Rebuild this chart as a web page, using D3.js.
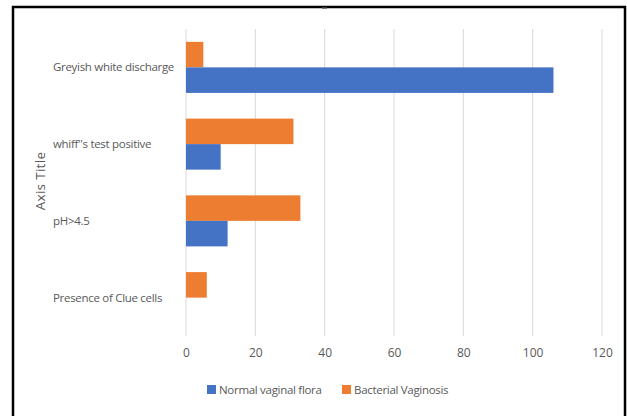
<!DOCTYPE html>
<html>
<head>
<meta charset="utf-8">
<script src="https://d3js.org/d3.v7.min.js"></script>
<style>
  body { margin: 0; background: #fff; }
  text { font-family: "Open Sans", sans-serif; fill: #595959; }
</style>
</head>
<body>
<svg id="chart" width="627" height="416"></svg>
<script>
var categories = ['Greyish white discharge', "whiff''s test positive", 'pH>4.5', 'Presence of Clue cells']
var seriesNames = ['Bacterial Vaginosis', 'Normal vaginal flora']
var bacterial = [5, 31, 33, 6]
var normal = [106, 10, 12, 0]
var xTicks = [0, 20, 40, 60, 80, 100, 120]
var colors = {'Normal vaginal flora': '#4472c4', 'Bacterial Vaginosis': '#ed7d31'}

var svg = d3.select('#chart')

// outer frame
svg.append('rect')
  .attr('x', 13).attr('y', 7)
  .attr('width', 612).attr('height', 420)
  .attr('fill', 'none').attr('stroke', '#000').attr('stroke-width', 2.5)

// remnant of cut-off title
svg.append('rect').attr('x', 322).attr('y', 7.5).attr('width', 5).attr('height', 1.5).attr('fill', '#777')

var margin = {left: 186, right: 25, top: 29, bottom: 80}
var width = 627 - margin.left - margin.right
var height = 416 - margin.top - margin.bottom

var x = d3.scaleLinear().domain([0, 120]).range([margin.left, margin.left + width])
var y = d3.scaleBand().domain(categories).range([margin.top, margin.top + height])
  .paddingInner(0.335).paddingOuter(0.1675)
var inner = d3.scaleBand().domain(seriesNames).range([0, y.bandwidth()])

// gridlines
svg.append('g').selectAll('line').data(xTicks).enter().append('line')
  .attr('x1', d => x(d)).attr('x2', d => x(d))
  .attr('y1', margin.top).attr('y2', margin.top + height)
  .attr('stroke', '#d9d9d9').attr('stroke-width', 1)

var rows = categories.map((c, i) => ({cat: c, vals: [
  {name: 'Bacterial Vaginosis', v: bacterial[i]},
  {name: 'Normal vaginal flora', v: normal[i]}
]}))

var groups = svg.append('g').selectAll('g').data(rows).enter().append('g')
  .attr('transform', d => 'translate(0,' + y(d.cat) + ')')

groups.selectAll('rect').data(d => d.vals).enter().append('rect')
  .attr('x', x(0))
  .attr('y', d => inner(d.name))
  .attr('width', d => x(d.v) - x(0))
  .attr('height', inner.bandwidth())
  .attr('fill', d => colors[d.name])

// x axis labels
var xAxis = d3.axisBottom(x).tickValues(xTicks).tickSize(0).tickPadding(12)
var gx = svg.append('g').attr('transform', 'translate(0,' + (margin.top + height) + ')').call(xAxis)
gx.select('.domain').remove()
gx.selectAll('text').style('font-size', '12px').attr('fill', '#595959').style('font-family', '"Open Sans", sans-serif')

// category labels
svg.append('g').selectAll('text').data(categories).enter().append('text')
  .attr('x', 53)
  .attr('y', d => y(d) + y.bandwidth() / 2)
  .attr('dy', '0.35em')
  .style('font-size', '11.5px')
  .style('letter-spacing', '-0.3px')
  .text(d => d)

// axis title
svg.append('text')
  .attr('transform', 'translate(40,181) rotate(-90)')
  .attr('text-anchor', 'middle')
  .attr('dy', '0.35em')
  .style('font-size', '13.5px')
  .style('letter-spacing', '0.3px')
  .text('Axis Title')

// legend
var legendItems = ['Normal vaginal flora', 'Bacterial Vaginosis']
var legendX = [207, 342]
var lg = svg.append('g').selectAll('g').data(legendItems).enter().append('g')
  .attr('transform', (d, i) => 'translate(' + legendX[i] + ',390)')
lg.append('rect').attr('x', 0).attr('y', -5).attr('width', 9).attr('height', 9)
  .attr('fill', d => colors[d])
lg.append('text').attr('x', 12).attr('dy', '0.35em')
  .style('font-size', '11.5px').style('letter-spacing', '-0.3px')
  .text(d => d)
</script>
</body>
</html>
